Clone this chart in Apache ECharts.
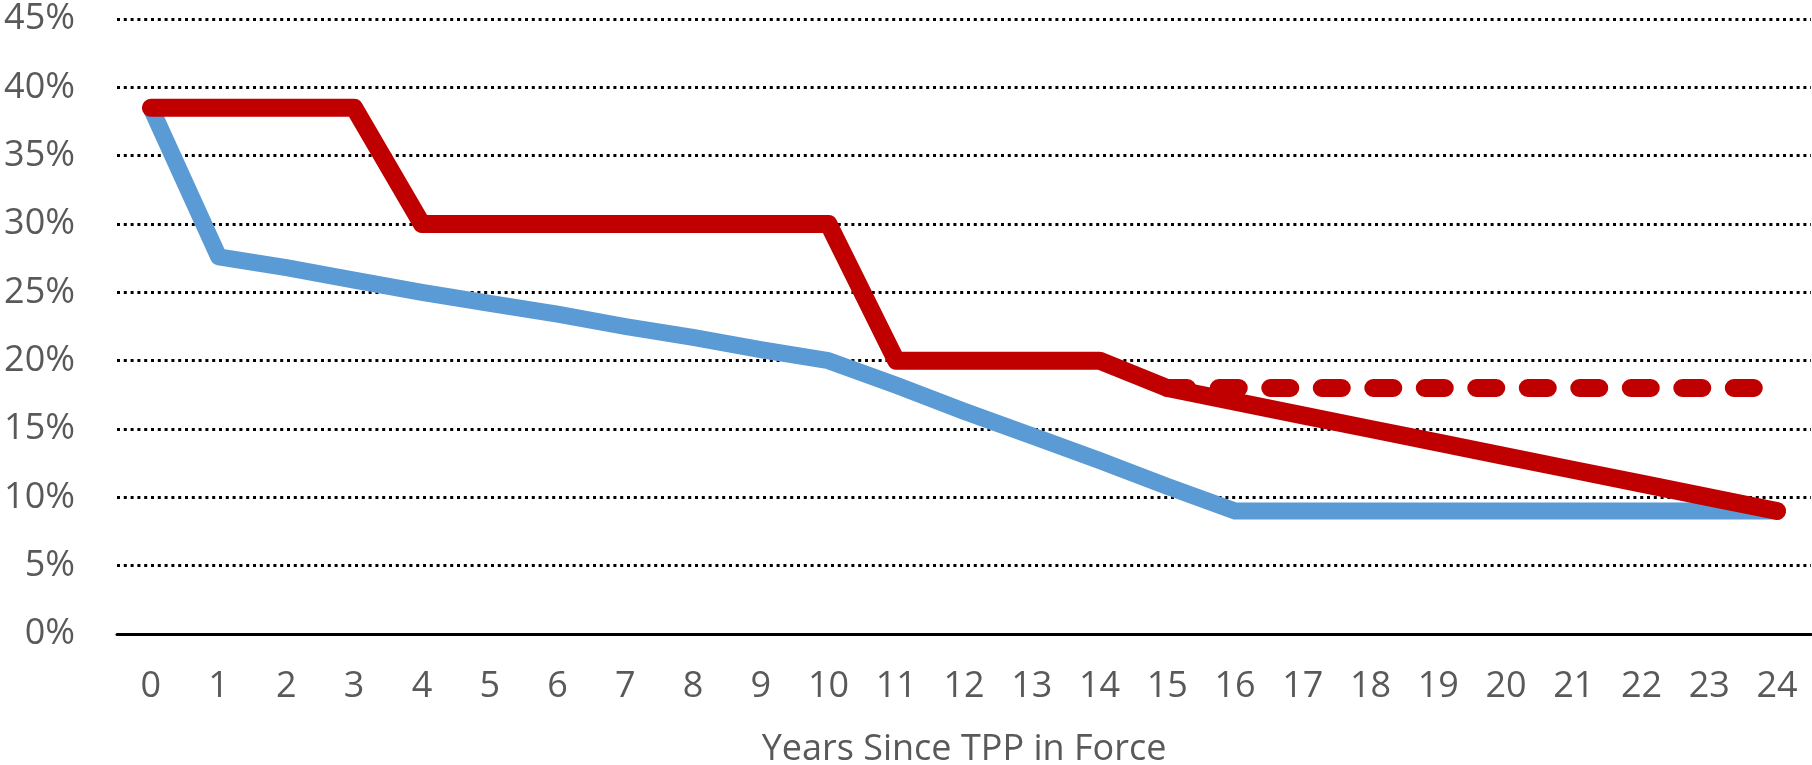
<!DOCTYPE html>
<html><head><meta charset="utf-8">
<script src="https://cdn.jsdelivr.net/npm/echarts@6/dist/echarts.min.js"></script>
<style>html,body{margin:0;padding:0;background:#fff}#c{width:1812px;height:765px}</style>
</head><body><div id="c"></div>
<script>
const years = ['0','1','2','3','4','5','6','7','8','9','10','11','12','13','14','15','16','17','18','19','20','21','22','23','24'];
const blueValues = [38.5,27.6,26.8,25.9,25.0,24.2,23.4,22.5,21.7,20.8,20.0,18.2,16.3,14.5,12.7,10.8,9.0,9.0,9.0,9.0,9.0,9.0,9.0,9.0,9.0];
const redValues = [38.5,38.5,38.5,38.5,30,30,30,30,30,30,30,20,20,20,20,18,17,16,15,14,13,12,11,10,9];
const redDashedValues = [null,null,null,null,null,null,null,null,null,null,null,null,null,null,null,18,18,18,18,18,18,18,18,18,18];
const yMax = 45, yStep = 5;
const xTitle = 'Years Since TPP in Force';

const font = '"Open Sans", sans-serif';
const chart = echarts.init(document.getElementById('c'), null, {renderer:'canvas'});
chart.setOption({
  animation:false,
  grid:{left:117,right:1,top:19,bottom:131,containLabel:false,outerBoundsMode:'none'},
  xAxis:{
    type:'category', data:years, boundaryGap:true,
    axisLine:{lineStyle:{color:'#000',width:3}},
    axisTick:{show:false},
    axisLabel:{color:'#595959',fontFamily:font,fontSize:36,margin:35,interval:0},
    name:xTitle, nameLocation:'middle', nameGap:98,
    nameTextStyle:{color:'#595959',fontFamily:font,fontSize:36}
  },
  yAxis:{
    type:'value', min:0, max:yMax, interval:yStep,
    axisLine:{show:false}, axisTick:{show:false},
    axisLabel:{color:'#595959',fontFamily:font,fontSize:36,margin:42,formatter:'{value}%'},
    splitLine:{lineStyle:{color:'#000',width:3,type:[3,3.8]}}
  },
  series:[
    {type:'line',data:blueValues,symbol:'none',z:2,
     lineStyle:{color:'#5B9BD5',width:17,cap:'round',join:'round'}},
    {type:'line',data:redValues,symbol:'none',z:3,
     lineStyle:{color:'#C00000',width:18,cap:'round',join:'round'}},
    {type:'line',data:redDashedValues,symbol:'none',z:4,connectNulls:false,
     lineStyle:{color:'#C00000',width:18,cap:'round',join:'round',type:[20,31.5]}}
  ]
});
</script></body></html>
